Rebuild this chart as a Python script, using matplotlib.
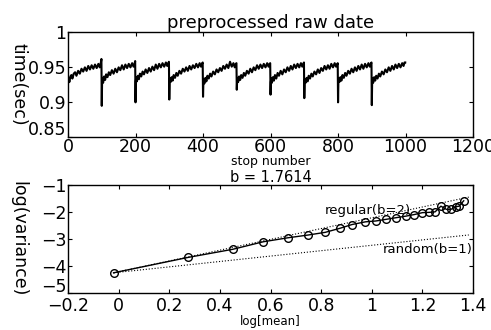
import matplotlib
matplotlib.use("Agg")
import matplotlib.pyplot as plt
import matplotlib.transforms as mtransforms

plt.rcParams['font.family'] = ['DejaVu Sans']

# top panel: stop times, one list per 100-stop cycle, sampled at these offsets
OFFSETS = [0, 1, 2, 4, 7, 10, 13, 17, 21, 25, 30, 35, 40, 45, 50, 55, 60, 65, 70, 75, 80, 85, 90, 94, 97, 99]

cycle_0 = [0.926, 0.931, 0.934, 0.928, 0.936, 0.938, 0.933, 0.940, 0.942, 0.937, 0.944, 0.940, 0.947, 0.943, 0.949, 0.944, 0.951, 0.946, 0.952, 0.947, 0.953, 0.948, 0.954, 0.949, 0.955, 0.961]
cycle_1 = [0.894, 0.928, 0.934, 0.927, 0.936, 0.931, 0.939, 0.935, 0.942, 0.938, 0.945, 0.940, 0.947, 0.942, 0.949, 0.945, 0.952, 0.946, 0.953, 0.948, 0.954, 0.949, 0.955, 0.950, 0.954, 0.958]
cycle_2 = [0.899, 0.929, 0.935, 0.929, 0.937, 0.932, 0.940, 0.936, 0.943, 0.939, 0.946, 0.941, 0.948, 0.943, 0.950, 0.945, 0.953, 0.947, 0.954, 0.949, 0.955, 0.950, 0.956, 0.951, 0.955, 0.957]
cycle_3 = [0.903, 0.927, 0.933, 0.928, 0.935, 0.930, 0.938, 0.934, 0.941, 0.937, 0.944, 0.940, 0.947, 0.943, 0.949, 0.944, 0.951, 0.946, 0.952, 0.948, 0.954, 0.949, 0.955, 0.950, 0.954, 0.956]
cycle_4 = [0.907, 0.926, 0.932, 0.926, 0.934, 0.929, 0.937, 0.933, 0.940, 0.936, 0.943, 0.939, 0.946, 0.942, 0.948, 0.944, 0.951, 0.947, 0.953, 0.948, 0.957, 0.950, 0.955, 0.949, 0.954, 0.955]
cycle_5 = [0.917, 0.929, 0.934, 0.928, 0.936, 0.931, 0.938, 0.934, 0.941, 0.937, 0.944, 0.940, 0.947, 0.942, 0.949, 0.945, 0.952, 0.947, 0.953, 0.948, 0.954, 0.949, 0.955, 0.950, 0.954, 0.955]
cycle_6 = [0.910, 0.928, 0.933, 0.927, 0.935, 0.930, 0.938, 0.933, 0.941, 0.937, 0.944, 0.939, 0.946, 0.942, 0.949, 0.944, 0.951, 0.946, 0.953, 0.948, 0.954, 0.949, 0.955, 0.950, 0.954, 0.956]
cycle_7 = [0.905, 0.927, 0.932, 0.927, 0.934, 0.929, 0.937, 0.933, 0.940, 0.936, 0.943, 0.939, 0.946, 0.941, 0.948, 0.944, 0.951, 0.946, 0.952, 0.947, 0.954, 0.949, 0.955, 0.950, 0.953, 0.955]
cycle_8 = [0.899, 0.928, 0.933, 0.928, 0.935, 0.930, 0.938, 0.934, 0.941, 0.937, 0.944, 0.940, 0.947, 0.942, 0.949, 0.944, 0.951, 0.946, 0.953, 0.947, 0.954, 0.949, 0.955, 0.950, 0.954, 0.956]
cycle_9 = [0.895, 0.927, 0.933, 0.927, 0.935, 0.930, 0.937, 0.933, 0.940, 0.936, 0.943, 0.939, 0.946, 0.942, 0.949, 0.944, 0.951, 0.946, 0.953, 0.948, 0.954, 0.949, 0.955, 0.951, 0.956, 0.956]
cycles = [cycle_0, cycle_1, cycle_2, cycle_3, cycle_4, cycle_5, cycle_6, cycle_7, cycle_8, cycle_9]

# bottom panel: log(mean) vs log(variance)
log_mean = [-0.02, 0.274, 0.45, 0.571, 0.67, 0.748, 0.816, 0.874, 0.922, 0.975, 1.015, 1.055,
            1.094, 1.134, 1.168, 1.2, 1.226, 1.25, 1.273, 1.295, 1.312, 1.332, 1.345, 1.363]
log_var = [-4.25, -3.68, -3.38, -3.1, -2.95, -2.85, -2.75, -2.6, -2.46, -2.36, -2.33, -2.27,
           -2.21, -2.15, -2.09, -2.02, -2.01, -1.99, -1.78, -1.9, -1.9, -1.8, -1.78, -1.58]
b_fit = 1.7614

stops = []
times = []
for k, vals in enumerate(cycles):
    for off, v in zip(OFFSETS, vals):
        stops.append(100 * k + off)
        times.append(v)

fig = plt.figure(figsize=(4.91, 3.30), dpi=100)
ax1 = fig.add_axes([0.1385, 0.586, 0.825, 0.318])
ax2 = fig.add_axes([0.1385, 0.112, 0.825, 0.327])

ax1.plot(stops, times, color='black', linewidth=1.5)
ax1.set_xlim(0, 1200)
ax1.set_ylim(0.85, 1)
ax1.set_xticks(range(0, 1201, 200))
ax1.set_yticks([0.85, 0.9, 0.95, 1])
ax1.set_yticklabels(['0.85', '0.9', '0.95', '1'])
ax1.set_title('preprocessed raw date', fontsize=13, pad=3)
ax1.set_xlabel('stop number', fontsize=9, labelpad=-1)
ax1.set_ylabel('time(sec)', fontsize=12.5, rotation=270, va='center', ha='center')
ax1.yaxis.set_label_coords(-0.123, 0.5)

# reference slopes through the first point
x0, y0 = log_mean[0], log_var[0]
x1 = log_mean[-1] + 0.02
ax2.plot([x0, x1], [y0, y0 + 2 * (x1 - x0)], color='black', linestyle=':', linewidth=0.8)
ax2.plot([x0, x1], [y0, y0 + 1 * (x1 - x0)], color='black', linestyle=':', linewidth=0.8)
ax2.plot(log_mean, log_var, color='black', linewidth=1.0, marker='o',
         markersize=5.5, markerfacecolor='none', markeredgewidth=1.0)
ax2.text(0.815, -1.93, 'regular(b=2)', fontsize=9.5, ha='left', va='center')
ax2.text(1.045, -3.4, 'random(b=1)', fontsize=9.5, ha='left', va='center')
ax2.set_xlim(-0.2, 1.4)
ax2.set_ylim(-5, -1)
ax2.set_xticks([-0.2, 0, 0.2, 0.4, 0.6, 0.8, 1, 1.2, 1.4])
ax2.set_xticklabels(['\u22120.2', '0', '0.2', '0.4', '0.6', '0.8', '1', '1.2', '1.4'])
ax2.set_yticks([-5, -4, -3, -2, -1])
ax2.set_title('b = %.4f' % b_fit, fontsize=10.5, pad=2)
ax2.set_xlabel('log[mean]', fontsize=8.5, labelpad=0)
ax2.set_ylabel('log(variance)', fontsize=12.5, rotation=270, va='center', ha='center')
ax2.yaxis.set_label_coords(-0.123, 0.5)

for ax in (ax1, ax2):
    ax.tick_params(direction='in', top=True, right=True, labelsize=12.5, length=3, pad=1)
    for s in ax.spines.values():
        s.set_linewidth(1.0)
    # lowest y label sits a little above its tick, as in the original
    lab = ax.get_yticklabels()[0]
    lab.set_transform(lab.get_transform() +
                      mtransforms.ScaledTranslation(0, 6 / 72, fig.dpi_scale_trans))
ax2.tick_params(axis='x', pad=2.5)

fig.savefig('out.png', dpi=100)
